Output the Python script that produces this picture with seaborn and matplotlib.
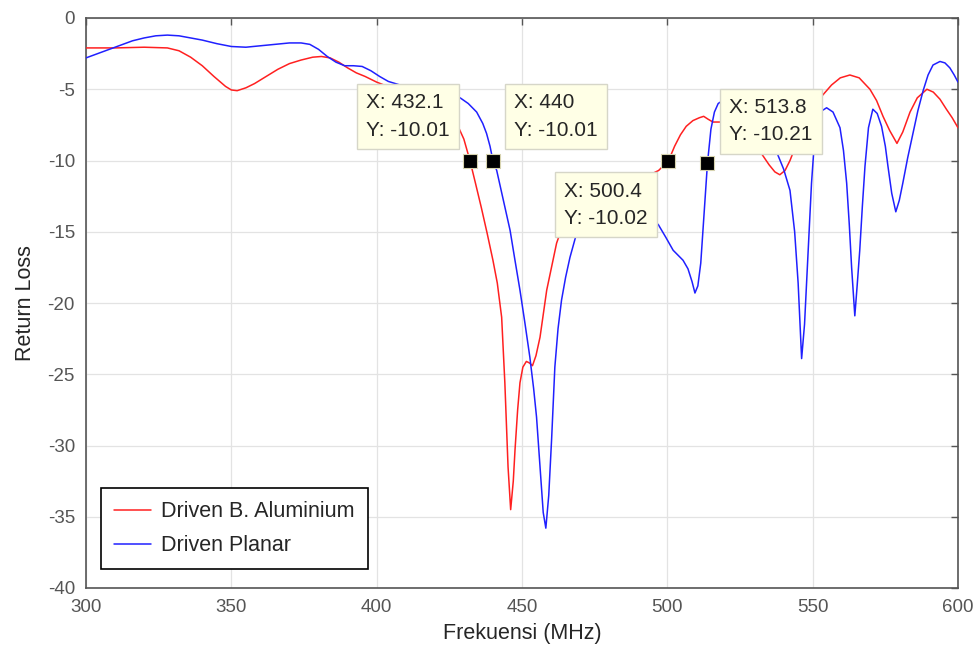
import numpy as np
import pandas as pd
import matplotlib
matplotlib.use("Agg")
import matplotlib.pyplot as plt
import seaborn as sns

# Driven B. Aluminium (red)
red_freq = [300, 310, 320, 328, 332, 336, 340, 344, 348, 350, 352, 355, 358, 362, 366, 370,
            374, 378, 381, 384, 387, 390, 393, 396, 400, 405, 410, 415, 420, 424, 428, 430,
            432.1, 434, 436, 438, 440, 441.5, 443, 444.1, 445.2, 446.1, 447, 447.6, 448.5,
            449.3, 450.3, 451.5, 452.5, 453.6, 454.8, 456.2, 458.5, 461.9, 465, 470, 475,
            480, 485, 490, 494, 497, 500.4, 502.5, 504.5, 506.5, 508.8, 511, 512.5, 514,
            515.7, 517.5, 520, 523, 526, 529, 532, 535, 537, 538.7, 540.5, 542.2, 544.5,
            547, 550, 553.5, 556.5, 559.5, 562.8, 566, 569.7, 572, 574.2, 576.5, 579, 581,
            583.5, 586, 589.3, 591.5, 593.8, 596, 598, 600]
red_rl = [-2.1, -2.1, -2.05, -2.1, -2.3, -2.75, -3.35, -4.1, -4.8, -5.05, -5.1, -4.9, -4.6,
          -4.1, -3.6, -3.2, -2.95, -2.75, -2.7, -2.8, -3.1, -3.5, -3.85, -4.1, -4.5, -4.9,
          -5.3, -5.8, -6.4, -7.0, -7.6, -8.5, -10.01, -11.6, -13.3, -15.1, -17.0, -18.6,
          -21.0, -25.6, -31.5, -34.5, -32.5, -30.3, -27.5, -25.6, -24.5, -24.1, -24.2,
          -24.4, -23.7, -22.4, -19.1, -15.8, -14.0, -12.9, -12.2, -11.8, -11.5, -11.2,
          -11.0, -10.7, -10.02, -9.0, -8.2, -7.6, -7.2, -7.0, -6.9, -7.1, -7.3, -7.3,
          -7.3, -7.6, -8.0, -8.6, -9.4, -10.3, -10.8, -11.0, -10.7, -10.0, -8.8, -7.5,
          -6.3, -5.4, -4.7, -4.2, -4.0, -4.2, -5.0, -5.8, -6.9, -7.9, -8.8, -8.0, -6.6,
          -5.6, -5.0, -5.2, -5.7, -6.4, -7.0, -7.7]

# Driven Planar (blue)
blue_freq = [300, 304, 308, 312, 316, 320, 324, 328, 332, 336, 340, 345, 350, 355, 360, 365,
             370, 374, 377, 380, 383, 386, 389, 392, 395, 398, 401, 404, 408, 412, 416, 420,
             424, 428.7, 431.5, 434.4, 436.5, 437.8, 439, 440, 441.3, 443.5, 445.9, 447.5,
             449.3, 451, 452.7, 454, 455, 456.2, 457.3, 458.2, 459.2, 460.2, 461.3, 462.4,
             463.6, 465, 466.5, 468.8, 472, 476, 480, 485, 490, 494, 496.9, 499.5, 502,
             505.4, 507.1, 508.5, 509.5, 510.5, 511.5, 512.5, 513.8, 515, 516.2, 517.5, 519,
             521, 524, 527, 530, 533, 535.5, 537.6, 540, 542.2, 543.8, 545, 546.2, 547.2,
             547.9, 548.8, 549.6, 550.8, 552.5, 554.8, 557, 559.4, 560.6, 561.7, 562.6,
             563.4, 564.5, 565.3, 566.2, 567.1, 568, 569.2, 570.7, 572.2, 573.7, 575, 575.9,
             577.2, 578.6, 579.8, 581, 582.7, 584.5, 586.2, 588, 589.7, 591.4, 593.8, 595.5,
             597.2, 598.7, 600]
blue_rl = [-2.8, -2.5, -2.2, -1.9, -1.6, -1.4, -1.25, -1.2, -1.25, -1.4, -1.55, -1.8, -2.0,
           -2.05, -1.95, -1.85, -1.75, -1.75, -1.85, -2.2, -2.7, -3.1, -3.35, -3.35, -3.4,
           -3.7, -4.1, -4.45, -4.7, -4.9, -5.05, -5.2, -5.35, -5.6, -6.0, -6.6, -7.4, -8.1,
           -9.0, -10.01, -10.7, -12.7, -14.9, -16.9, -19.1, -21.4, -23.8, -26.0, -28.0,
           -31.5, -34.7, -35.8, -33.5, -29.5, -24.5, -21.8, -19.8, -18.2, -16.8, -15.1,
           -13.9, -13.2, -13.0, -13.1, -13.5, -14.0, -14.5, -15.4, -16.3, -17.0, -17.6,
           -18.5, -19.3, -18.8, -17.2, -14.2, -10.21, -7.8, -6.6, -6.0, -5.8, -5.8, -6.2,
           -6.7, -7.4, -8.4, -9.3, -9.4, -10.6, -12.1, -15.0, -18.6, -23.9, -21.5, -18.6,
           -15.0, -11.6, -8.1, -6.6, -6.3, -6.6, -7.7, -9.3, -11.6, -14.5, -17.5, -20.9,
           -18.8, -16.3, -13.2, -10.4, -7.7, -6.4, -6.7, -7.6, -9.0, -10.4, -12.3, -13.6,
           -12.8, -11.6, -9.8, -8.1, -6.5, -5.1, -4.0, -3.3, -3.05, -3.15, -3.5, -4.0, -4.5]

# data tips
tip_x = [432.1, 440, 500.4, 513.8]
tip_y = [-10.01, -10.01, -10.02, -10.21]
tip_offsets = [(-20, 21, "right", "bottom"), (21, 21, "left", "bottom"),
               (-21, -21, "right", "top"), (22, 19, "left", "bottom")]

sns.set_style("white")
plt.rcParams["font.family"] = ["Liberation Sans", "DejaVu Sans"]
plt.rcParams["axes.unicode_minus"] = False

fig = plt.figure(figsize=(9.77, 6.55), dpi=100)
ax = fig.add_axes([86 / 977, 1 - 588 / 655, 872 / 977, 570 / 655])

df_red = pd.DataFrame({"f": red_freq, "rl": red_rl})
df_blue = pd.DataFrame({"f": blue_freq, "rl": blue_rl})
sns.lineplot(data=df_red, x="f", y="rl", color="#ff2020", lw=1.1, sort=False,
             label="Driven B. Aluminium", ax=ax, zorder=3)
sns.lineplot(data=df_blue, x="f", y="rl", color="#2020ff", lw=1.1, sort=False,
             label="Driven Planar", ax=ax, zorder=3)

ax.plot(tip_x, tip_y, ls="none", marker="s", ms=10, mfc="black", mec="#d8d4b0",
        mew=0.8, zorder=6)
for x, y, (dx, dy, ha, va) in zip(tip_x, tip_y, tip_offsets):
    ax.annotate(f"X: {x:g}\nY: {y:.2f}", xy=(x, y), xytext=(dx, dy),
                textcoords="offset pixels", ha=ha, va=va, multialignment="left",
                fontsize=15, color="#262626", linespacing=1.55, zorder=7,
                bbox=dict(boxstyle="square,pad=0.45", fc="#ffffe6", ec="#d6d6c8", lw=1))

ax.set_xlim(300, 600)
ax.set_ylim(-40, 0)
ax.set_xticks(np.arange(300, 601, 50))
ax.set_yticks(np.arange(-40, 1, 5))
ax.grid(True, color="#e3e3e3", lw=0.9)
ax.set_axisbelow(True)
ax.tick_params(direction="in", length=5, width=1, colors="#555555", labelsize=13.5,
               top=True, right=True, pad=8)
for s in ax.spines.values():
    s.set_color("#555555")
    s.set_linewidth(1.2)
    s.set_visible(True)

ax.set_xlabel("Frekuensi (MHz)", fontsize=15.5, color="#262626", labelpad=5)
ax.set_ylabel("Return Loss", fontsize=15.5, color="#262626", labelpad=8)

leg = ax.legend(loc="lower left", bbox_to_anchor=(0.017, 0.033), borderaxespad=0,
                fontsize=15.5, frameon=True, fancybox=False, edgecolor="black",
                framealpha=1, handlelength=1.75, handletextpad=0.45, borderpad=0.6,
                labelspacing=0.6)
leg.get_frame().set_linewidth(1.2)
for t in leg.get_texts():
    t.set_color("#262626")

fig.savefig("out.png", dpi=100)
